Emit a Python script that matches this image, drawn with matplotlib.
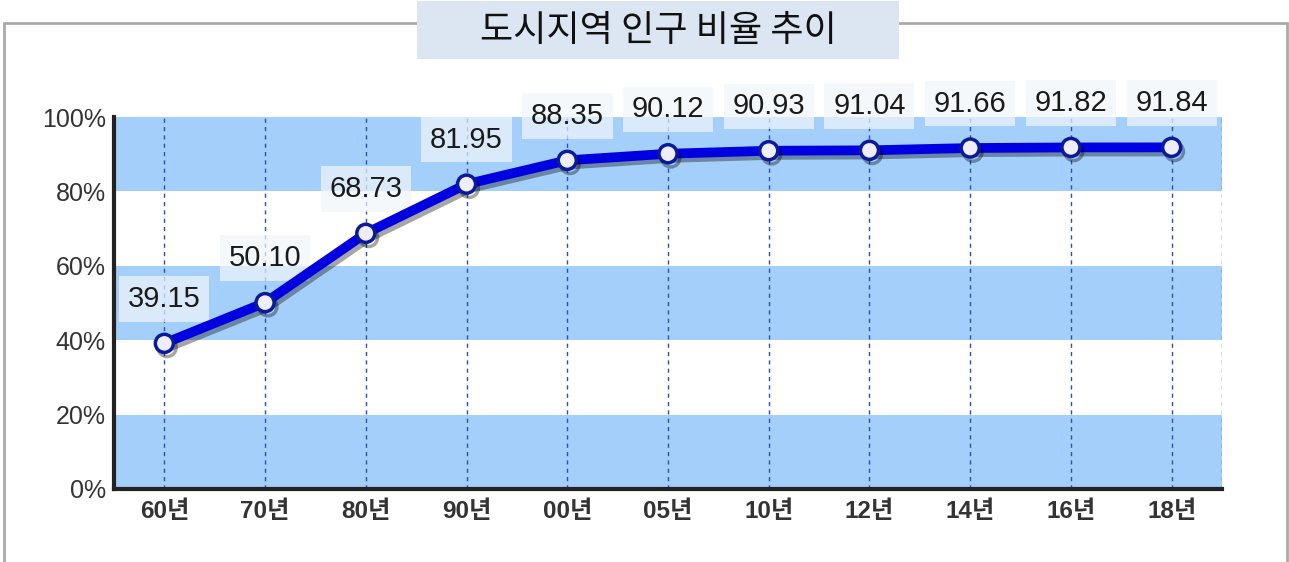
import matplotlib
matplotlib.use('Agg')
import matplotlib.pyplot as plt
import matplotlib.patheffects as pe
from matplotlib.patches import Rectangle

# data
years = ['60년', '70년', '80년', '90년', '00년', '05년', '10년', '12년', '14년', '16년', '18년']
urban_ratio = [39.15, 50.10, 68.73, 81.95, 88.35, 90.12, 90.93, 91.04, 91.66, 91.82, 91.84]
yticks = [0, 20, 40, 60, 80, 100]
ytick_labels = ['0%', '20%', '40%', '60%', '80%', '100%']
title = '도시지역 인구 비율 추이'

W, H = 1289, 562
fig = plt.figure(figsize=(W / 100, H / 100), dpi=100)

# outer gray frame (goes off the bottom edge)
fig.patches.append(Rectangle((4 / W, -0.02), (1287 - 4) / W, 1 - 23 / H + 0.02,
                             transform=fig.transFigure, fill=False,
                             edgecolor='#AAAAAA', lw=2, zorder=0))

ax = fig.add_axes([114 / W, 1 - 489 / H, (1222 - 114) / W, (489 - 117) / H])
x = list(range(len(years)))
ax.set_xlim(-0.5, len(years) - 0.5)
ax.set_ylim(0, 100)

# alternating blue bands
for lo in (0, 40, 80):
    ax.axhspan(lo, lo + 20, color='#A3CFFA', lw=0, zorder=0)

# dashed verticals at every category + right edge
for xi in x + [len(years) - 0.5]:
    ax.axvline(xi, color='#2D4FB5', lw=1, ls=(0, (3, 3)), zorder=1)

ax.plot(x, urban_ratio, color='#0000E0', lw=7, solid_capstyle='round',
        marker='o', ms=13, mfc='#EEEEFA', mec='#0A1A9A', mew=2.5, zorder=3,
        path_effects=[pe.SimpleLineShadow(offset=(2, -3), shadow_color='k', alpha=0.35),
                      pe.Normal()])

for xi, v in zip(x, urban_ratio):
    ax.annotate('%.2f' % v, (xi, v), xytext=(0, 32), textcoords='offset points',
                ha='center', va='center', fontsize=21, color='#1A1A1A',
                family='Liberation Sans', zorder=2, annotation_clip=False,
                bbox=dict(boxstyle='square,pad=0.3', fc='#F2F6FA', ec='none', alpha=0.7))

for side in ('top', 'right'):
    ax.spines[side].set_visible(False)
for side in ('left', 'bottom'):
    ax.spines[side].set_color('#222222')
    ax.spines[side].set_linewidth(3)

ax.set_yticks(yticks)
ax.set_yticklabels(ytick_labels, fontsize=18, color='#333333', family='Liberation Sans')
ax.set_xticks(x)
ax.set_xticklabels(years, fontsize=17.5, fontweight='bold', color='#333333',
                   family=['Liberation Sans', 'Noto Sans CJK KR'])
ax.tick_params(axis='y', length=0, pad=6)
ax.tick_params(axis='x', length=0, pad=8)

# title box overlapping the frame
fig.patches.append(Rectangle((417 / W, 1 - 59 / H), (899 - 417) / W, 58 / H,
                             transform=fig.transFigure, facecolor='#DCE6F2',
                             edgecolor='none', zorder=1))
fig.text(658 / W, 1 - 31 / H, title, ha='center', va='center', fontsize=26,
         color='#111111', family=['Noto Sans CJK KR', 'DejaVu Sans'], zorder=2)

fig.savefig('out.png', dpi=100)
